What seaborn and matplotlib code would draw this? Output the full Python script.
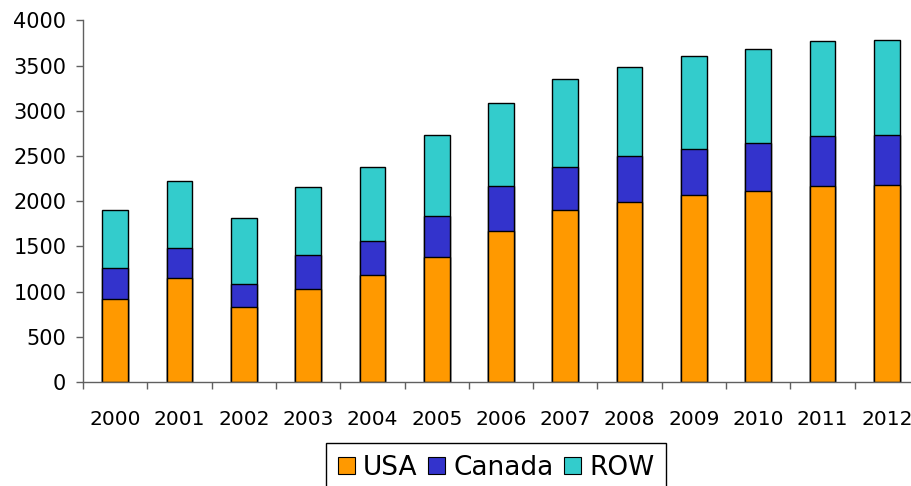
import seaborn as sns
import matplotlib.pyplot as plt
from matplotlib.patches import Patch
from matplotlib.ticker import FixedLocator
import pandas as pd
import numpy as np

sns.set_theme(style="ticks")
plt.rcParams['font.family'] = ['DejaVu Sans']
plt.rcParams['text.color'] = 'black'
plt.rcParams['xtick.color'] = 'black'
plt.rcParams['ytick.color'] = 'black'

years = ['2000', '2001', '2002', '2003', '2004', '2005', '2006',
         '2007', '2008', '2009', '2010', '2011', '2012']
usa = [915, 1150, 830, 1030, 1180, 1380, 1675, 1900, 1995, 2065, 2115, 2170, 2175]
canada = [348, 338, 252, 377, 379, 456, 498, 484, 504, 515, 532, 555, 560]
row = [644, 741, 729, 755, 825, 899, 910, 966, 991, 1025, 1040, 1046, 1052]

series = ['USA', 'Canada', 'ROW']
colors = {'USA': '#FF9900', 'Canada': '#3333CC', 'ROW': '#33CCCC'}

df = pd.DataFrame({'year': years, 'USA': usa, 'Canada': canada, 'ROW': row})
df['cum_usa'] = df['USA']
df['cum_canada'] = df['USA'] + df['Canada']
df['cum_row'] = df['cum_canada'] + df['ROW']

fig = plt.figure(figsize=(9.11, 4.86), dpi=100)
ax = fig.add_axes([83 / 911, 104 / 486, 836 / 911, 361.5 / 486])

# draw tallest stack first, then overlay lower parts
for col, name in [('cum_row', 'ROW'), ('cum_canada', 'Canada'), ('cum_usa', 'USA')]:
    sns.barplot(data=df, x='year', y=col, order=years, color=colors[name],
                saturation=1, width=0.4, edgecolor='black', linewidth=1,
                ax=ax)

ax.set_xlim(-0.5, len(years) - 0.5)
ax.set_ylim(0, 4000)
ax.set_yticks(np.arange(0, 4001, 500))
ax.set_xlabel('')
ax.set_ylabel('')

# ticks between categories on the x axis
ax.xaxis.set_minor_locator(FixedLocator(np.arange(-0.5, len(years), 1)))
ax.tick_params(axis='x', which='major', length=0, pad=20, labelsize=14.5, labelcolor='black')
ax.tick_params(axis='x', which='minor', length=5, width=1, color='#606060', direction='out')
ax.tick_params(axis='y', length=5, width=1, color='#606060', pad=7, labelsize=15, labelcolor='black')

for s in ['left', 'bottom']:
    ax.spines[s].set_color('#606060')
    ax.spines[s].set_linewidth(1)
ax.spines['top'].set_visible(False)
ax.spines['right'].set_visible(False)

handles = [Patch(facecolor=colors[n], edgecolor='black', linewidth=0.8, label=n) for n in series]
leg = fig.legend(handles=handles, loc='upper center', bbox_to_anchor=(496 / 911, 1 - 443 / 486),
                 ncol=3, fontsize=19, frameon=True, fancybox=False, framealpha=1,
                 edgecolor='black', handlelength=0.65, handleheight=0.65,
                 handletextpad=0.3, columnspacing=0.4, borderpad=0.45,
                 borderaxespad=0, labelcolor='black')
leg.get_frame().set_linewidth(1)

fig.savefig('out.png', dpi=100)
